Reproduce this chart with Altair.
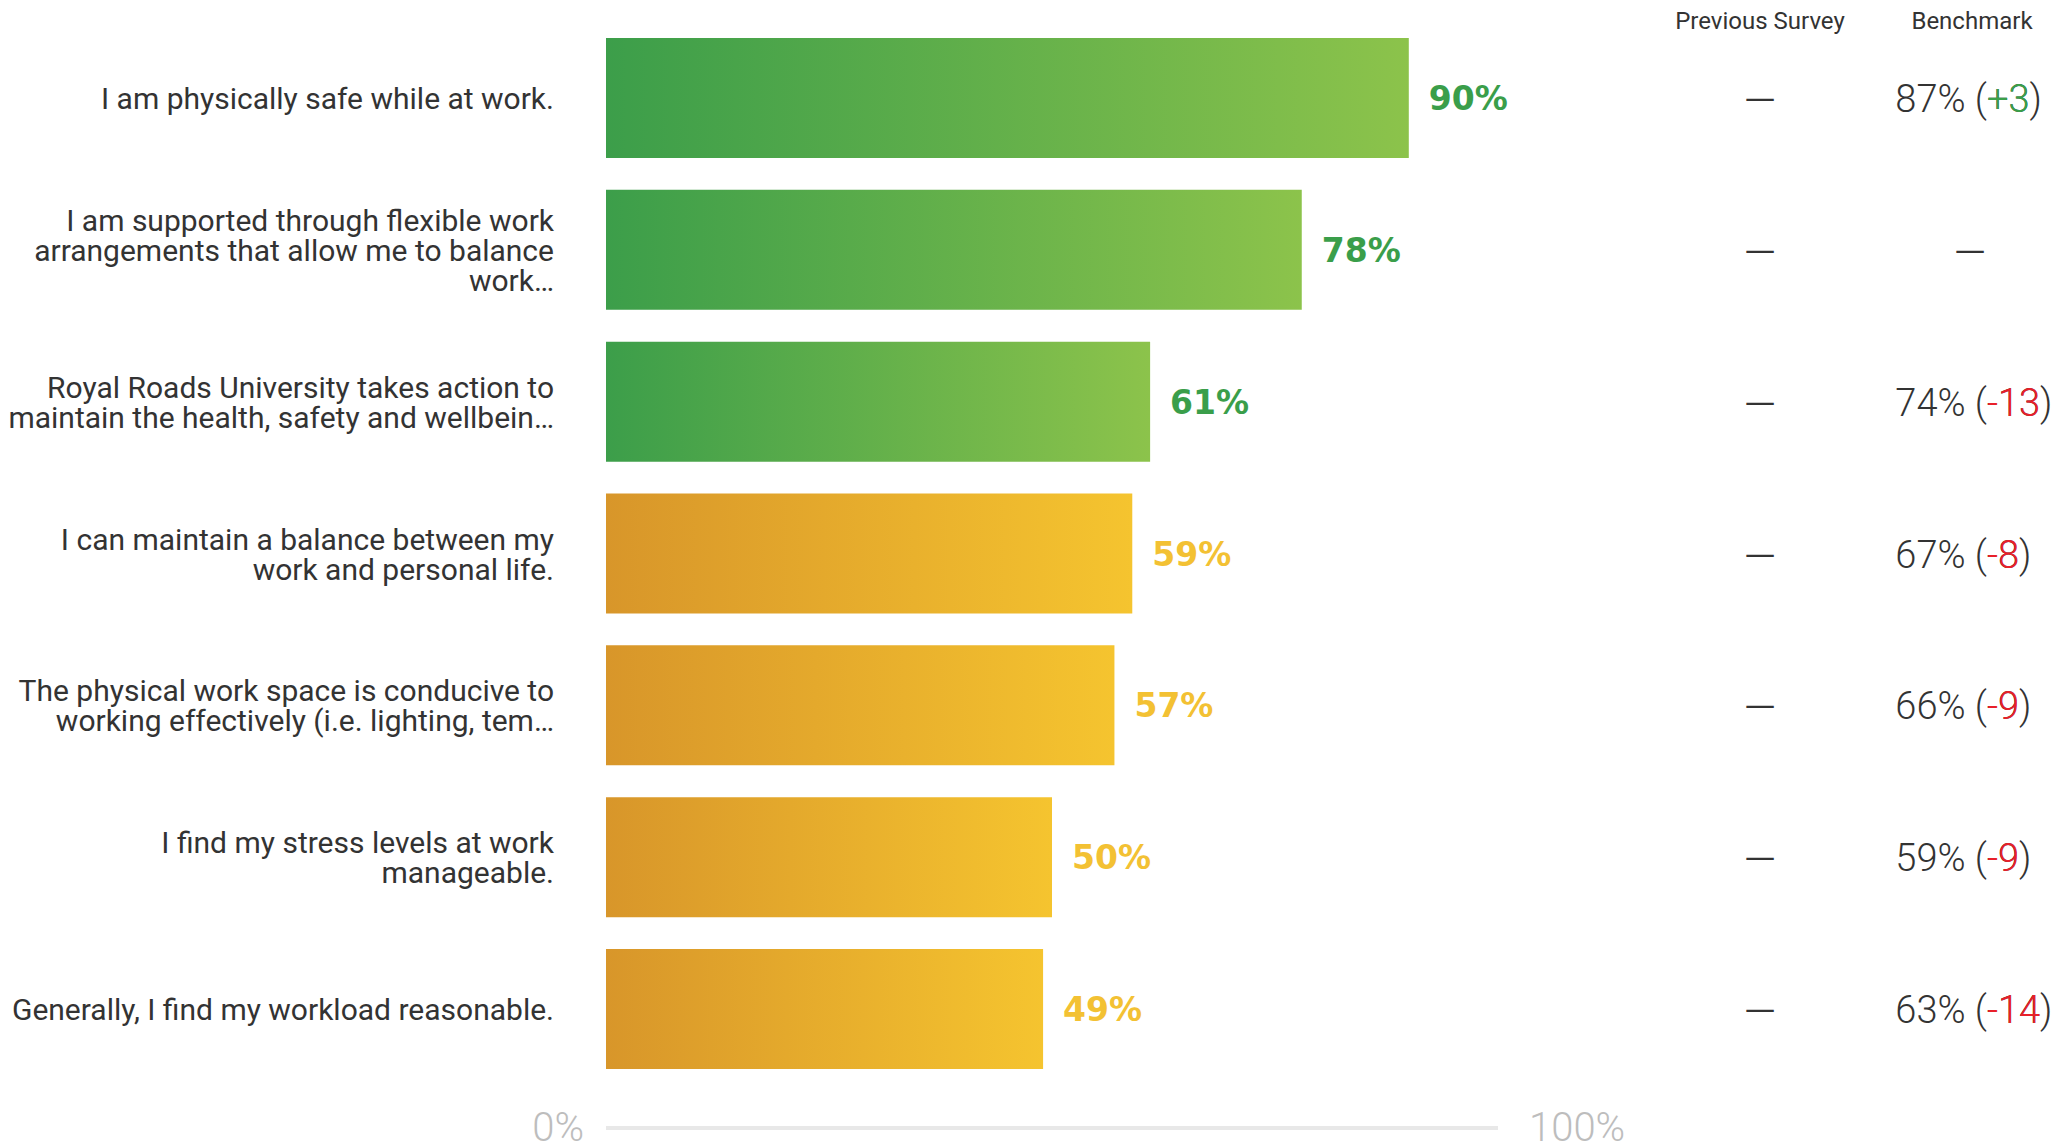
import altair as alt
import pandas as pd

# ---- data ----
questions = [
    "I am physically safe while at work.",
    "I am supported through flexible work|arrangements that allow me to balance|work…",
    "Royal Roads University takes action to|maintain the health, safety and wellbein…",
    "I can maintain a balance between my|work and personal life.",
    "The physical work space is conducive to|working effectively (i.e. lighting, tem…",
    "I find my stress levels at work|manageable.",
    "Generally, I find my workload reasonable.",
]
pct = [90, 78, 61, 59, 57, 50, 49]
benchmark = [87, None, 74, 67, 66, 59, 63]
previous = [None, None, None, None, None, None, None]
headers = ["Previous Survey", "Benchmark"]
axis_ticks = [0, 100]

GREEN_L, GREEN_R = "#3c9e4a", "#8cc34b"
ORANGE_L, ORANGE_R = "#d8962a", "#f5c42f"
GREEN_TXT, YELLOW_TXT = "#3a9e4a", "#f3c133"
DARK = "#333333"
RED = "#e8202a"

rows = []
for q, p, b, pv in zip(questions, pct, benchmark, previous):
    r = {"q": q, "n_lines": q.count("|") + 1, "pct": p, "pct_label": f"{p}%",
         "prev_label": "—" if pv is None else f"{pv}%"}
    if b is None:
        r.update(has_b=0, prefix="", delta="", delta_close="", sign=0)
    else:
        d = p - b
        ds = f"+{d}" if d > 0 else f"{d}"
        r.update(has_b=1, prefix=f"{b}% (", delta=ds, delta_close=ds + ")", sign=1 if d > 0 else -1)
    rows.append(r)
df = pd.DataFrame(rows)

W, H = 892, 1107
PAD_L = 606
LINE_H = 30

yenc = alt.Y(
    "q:N", sort=questions, title=None,
    scale=alt.Scale(paddingInner=0.2097, paddingOuter=0.2503),
    axis=None,
)
xenc = alt.X("pct:Q", scale=alt.Scale(domain=[0, 100]), axis=None)

base = alt.Chart(df)

def grad(a, b):
    return alt.Gradient(gradient="linear",
                        stops=[alt.GradientStop(color=a, offset=0), alt.GradientStop(color=b, offset=1)],
                        x1=0, x2=1, y1=0, y2=0)

green_bars = base.transform_filter("datum.pct >= 60").mark_bar(color=grad(GREEN_L, GREEN_R)).encode(x=xenc, y=yenc)
orange_bars = base.transform_filter("datum.pct < 60").mark_bar(color=grad(ORANGE_L, ORANGE_R)).encode(x=xenc, y=yenc)

# question labels (multi-line, vertically centred on their band)
label_layers = []
for n in (1, 2, 3):
    label_layers.append(
        base.transform_filter(f"datum.n_lines == {n}")
        .transform_calculate(lines="split(datum.q, '|')")
        .mark_text(align="right", baseline="middle", dy=2 - (n - 1) * LINE_H / 2, lineHeight=LINE_H,
                   font="Roboto", fontSize=30, color=DARK)
        .encode(x=alt.value(554 - PAD_L), y=yenc, text="lines:N")
    )

value_labels = base.mark_text(align="left", baseline="middle", dx=20, dy=2, font="DejaVu Sans",
                              fontSize=33, fontWeight="bold").encode(
    x=xenc, y=yenc, text="pct_label:N",
    color=alt.condition("datum.pct >= 60", alt.value(GREEN_TXT), alt.value(YELLOW_TXT)))

prev_col = base.mark_text(align="center", baseline="middle", dy=4, font="Roboto", fontSize=42,
                          fontWeight=300, color=DARK).encode(x=alt.value(1760 - PAD_L), y=yenc, text="prev_label:N")

bench_dash = base.transform_filter("datum.has_b == 0").mark_text(
    align="center", baseline="middle", dy=4, font="Roboto", fontSize=42, fontWeight=300, color=DARK).encode(
    x=alt.value(1970 - PAD_L), y=yenc, text=alt.value("—"))

bfont = dict(baseline="middle", dy=3, font="Roboto", fontSize=38, fontWeight=300)
ANCHOR = 1987 - PAD_L
bench_prefix = base.transform_filter("datum.has_b == 1").mark_text(align="right", color=DARK, **bfont).encode(
    x=alt.value(ANCHOR), y=yenc, text="prefix:N")
bench_close = base.transform_filter("datum.has_b == 1").mark_text(align="left", color=DARK, **bfont).encode(
    x=alt.value(ANCHOR), y=yenc, text="delta_close:N")
bench_delta = base.transform_filter("datum.has_b == 1").mark_text(align="left", **bfont).encode(
    x=alt.value(ANCHOR), y=yenc, text="delta:N",
    color=alt.condition("datum.sign > 0", alt.value("#3aa04a"), alt.value(RED)))

hdr_df = pd.DataFrame({"h": headers, "pos": ["prev", "bench"]})
hdr_prev = alt.Chart(hdr_df).transform_filter("datum.pos == 'prev'").mark_text(
    align="center", baseline="middle", font="Roboto", fontSize=24, color=DARK).encode(
    x=alt.value(1760 - PAD_L), y=alt.value(22), text="h:N")
hdr_bench = alt.Chart(hdr_df).transform_filter("datum.pos == 'bench'").mark_text(
    align="center", baseline="middle", font="Roboto", fontSize=24, color=DARK).encode(
    x=alt.value(1972 - PAD_L), y=alt.value(22), text="h:N")

tick_df = pd.DataFrame({"v": axis_ticks, "lbl": [f"{t}%" for t in axis_ticks]})
axis_line = alt.Chart(tick_df).mark_rule(color="#e8e8e8", strokeWidth=4).encode(
    x=alt.X("min(v):Q", scale=alt.Scale(domain=[0, 100])), x2="max(v):Q", y=alt.value(1128))
lbl0 = alt.Chart(tick_df).transform_filter("datum.v == 0").mark_text(
    align="right", baseline="alphabetic", dx=-22, font="Roboto", fontSize=40, fontWeight=300,
    color="#bdbdbd").encode(x=alt.X("v:Q", scale=alt.Scale(domain=[0, 100])), y=alt.value(1141), text="lbl:N")
lbl100 = alt.Chart(tick_df).transform_filter("datum.v == 100").mark_text(
    align="left", baseline="alphabetic", dx=31, font="Roboto", fontSize=40, fontWeight=300,
    color="#bdbdbd").encode(x=alt.X("v:Q", scale=alt.Scale(domain=[0, 100])), y=alt.value(1141), text="lbl:N")

chart = alt.layer(
    green_bars, orange_bars, *label_layers, value_labels, prev_col, bench_dash,
    bench_prefix, bench_close, bench_delta, hdr_prev, hdr_bench,
    axis_line, lbl0, lbl100,
).properties(
    width=W, height=H,
    autosize=alt.AutoSizeParams(type="none"),
    padding={"left": PAD_L, "right": 2069 - PAD_L - W, "top": 0, "bottom": 1144 - H},
    background="white",
).configure(font="Roboto").configure_view(stroke=None)

chart.save("out.html", embed_options={"renderer": "svg", "actions": False})
